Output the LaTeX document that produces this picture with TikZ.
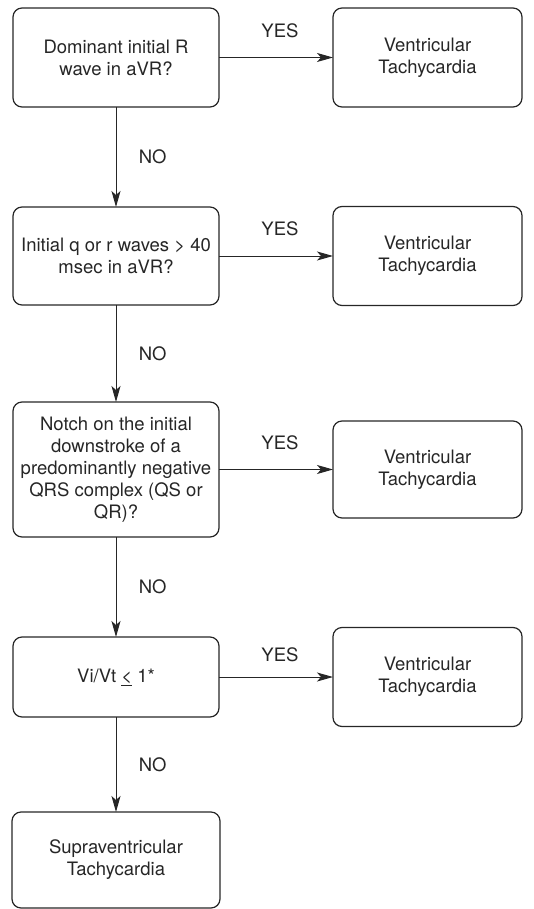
\documentclass[tikz,border=0pt]{standalone}
\usepackage{fontspec}
\setmainfont{TeX Gyre Heros}
\usetikzlibrary{arrows.meta}
\definecolor{ink}{gray}{0.15}
\tikzset{
box/.style={
	draw, rounded corners=9pt, align=center, inner sep=0pt, outer sep=0pt,
	line width=1.2pt, font=\fontsize{18.5}{22}\selectfont},
qbox/.style={box, minimum width=206pt},
vtbox/.style={box, minimum width=189pt, minimum height=99pt},
yes/.style={font=\fontsize{18.5}{22}\selectfont, xshift=4pt, yshift=27pt},
no/.style={font=\fontsize{18.5}{22}\selectfont, right, xshift=19pt}
}

\begin{document}
\begin{tikzpicture}[x=1pt, y=1pt, line width=1pt, color=ink,
	>={Stealth[length=16pt, width=9pt, inset=4pt]}]
	\useasboundingbox (0,0) rectangle (534,-909);
	\node[qbox, minimum height=99pt] (q1) at (116,-57.5) {Dominant initial R\\wave in aVR?};
	\node[vtbox] (vt1) at (427.5,-57.5) {Ventricular\\Tachycardia};
	\node[qbox, minimum height=98pt] (q2) at (116,-256) {Initial q or r waves > 40\\msec in aVR?};
	\node[vtbox] (vt2) at (427.5,-256) {Ventricular\\Tachycardia};
	\node[qbox, minimum height=135pt] (q3) at (116,-469.5) {Notch on the initial\\downstroke of a\\predominantly negative\\QRS complex (QS or\\QR)?};
	\node[vtbox, minimum height=97pt] (vt3) at (427.5,-469.5) {Ventricular\\Tachycardia};
	\node[qbox, minimum height=80pt] (q4) at (116,-677) {Vi/Vt \underline{<} 1*};
	\node[vtbox] (vt4) at (427.5,-677) {Ventricular\\Tachycardia};
	\node[box, minimum width=208pt, minimum height=96pt] (svt) at (116,-860) {Supraventricular\\Tachycardia};

	\draw[->] (q1) -- node[yes] {YES} (vt1);
	\draw[->] (q2) -- node[yes] {YES} (vt2);
	\draw[->] (q3) -- node[yes] {YES} (vt3);
	\draw[->] (q4) -- node[yes, yshift=-5pt] {YES} (vt4);
	\draw[->] (q1) -- node[no] {NO} (q2);
	\draw[->] (q2) -- node[no] {NO} (q3);
	\draw[->] (q3) -- node[no] {NO} (q4);
	\draw[->] (q4) -- node[no] {NO} (svt);
\end{tikzpicture}
\end{document}
